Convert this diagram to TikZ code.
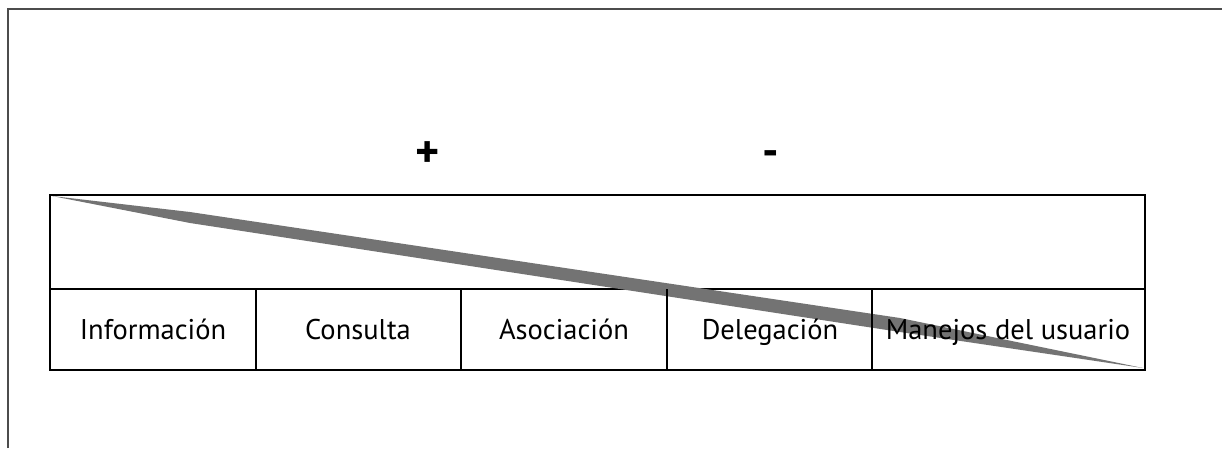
\documentclass[tikz,border=0pt]{standalone}
\usepackage{fontspec}
\setmainfont{PT Sans}
\begin{document}
\begin{tikzpicture}[x=1pt, y=-1pt]
    \tikzset{
        label/.style={font=\fontsize{28.5}{32}\selectfont, inner sep=0pt, anchor=base},
        sign/.style={font=\fontsize{#1}{#1}\selectfont\bfseries, inner sep=0pt},
        table/.style={line width=2.3pt, black}
    }
    \useasboundingbox (0,0) rectangle (1222,448);
    \def\top{195}
    \def\mid{289}
    \def\bot{370}

    % outer frame
    \draw[black!70, line width=1.5pt] (8,448) -- (8,9) -- (1222,9);

    % signs above the table
    \node[sign=46] (plus) at (428,155) {+};
    \node[sign=46] (minus) at (771,159) {-};

    % table box and middle line
    \draw[table] (50,\top) rectangle (1145,\bot);
    \draw[table] (50,\mid) -- (1145,\mid);

    % gray wedge
    \fill[black!55] (52,196) -- (190,212) -- (900,318) -- (1143,368)
        -- (900,332) -- (190,223) -- cycle;

    % cell separators
    \draw[table] (256,\mid) -- (256,\bot);
    \draw[table] (461,\mid) -- (461,\bot);
    \draw[table] (667,\mid) -- (667,\bot);
    \draw[table] (872,\mid) -- (872,\bot);

    % cell labels
    \node[label] (info) at (153,339) {Información};
    \node[label] (consulta) at (358,339) {Consulta};
    \node[label] (asoc) at (564,339) {Asociación};
    \node[label] (deleg) at (770,339) {Delegación};
    \node[label] (manejos) at (1008,339) {Manejos del usuario};
\end{tikzpicture}
\end{document}
